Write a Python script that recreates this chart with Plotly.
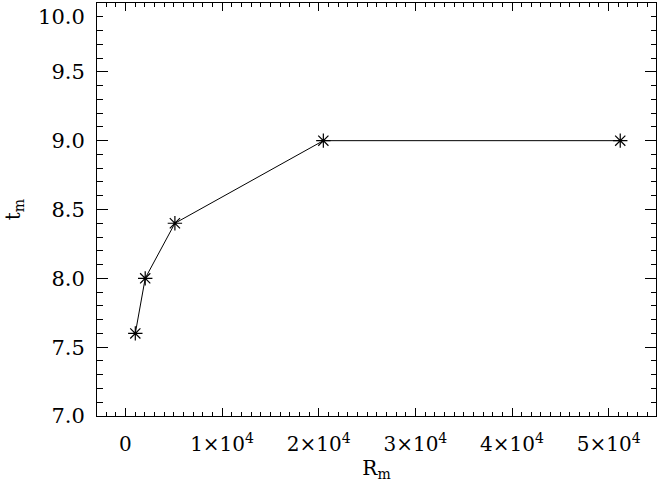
import plotly.graph_objects as go

R_m = [1024, 2048, 5120, 20480, 51200]
t_m = [7.6, 8.0, 8.4, 9.0, 9.0]

x_tickvals = [0, 10000, 20000, 30000, 40000, 50000]
x_ticktext = ["0", "1×10<sup>4</sup>", "2×10<sup>4</sup>", "3×10<sup>4</sup>",
              "4×10<sup>4</sup>", "5×10<sup>4</sup>"]
y_tickvals = [7.0, 7.5, 8.0, 8.5, 9.0, 9.5, 10.0]
y_ticktext = ["7.0", "7.5", "8.0", "8.5", "9.0", "9.5", "<br>10.0"]

FONT = "DejaVu Serif"

fig = go.Figure()
fig.add_trace(go.Scatter(
    x=R_m, y=t_m, mode="lines+markers",
    line=dict(color="black", width=1),
    marker=dict(symbol="asterisk", size=12, color="black",
                line=dict(color="black", width=1.2)),
    showlegend=False,
))

fig.update_layout(
    width=658, height=485,
    margin=dict(l=97, r=2, t=3, b=69),
    paper_bgcolor="white", plot_bgcolor="white",
    font=dict(family=FONT, size=20, color="black"),
    xaxis=dict(
        range=[-2940, 54900],
        tickvals=x_tickvals, ticktext=x_ticktext,
        ticks="inside", ticklen=8, tickwidth=1, tickcolor="black",
        showline=True, linecolor="black", linewidth=1, mirror="allticks",
        showgrid=False, zeroline=False, automargin=False,
        minor=dict(ticks="inside", ticklen=4, dtick=1000, tick0=0,
                   tickcolor="black", showgrid=False),
        ticklabelstandoff=10,
        title=dict(text="R<sub>m</sub>", font=dict(size=20), standoff=4),
    ),
    yaxis=dict(
        range=[7, 10],
        tickvals=y_tickvals, ticktext=y_ticktext,
        tickfont=dict(size=21),
        ticks="inside", ticklen=11, tickwidth=1, tickcolor="black",
        showline=True, linecolor="black", linewidth=1, mirror="allticks",
        showgrid=False, zeroline=False, automargin=False,
        minor=dict(ticks="inside", ticklen=5.5, dtick=0.1, tick0=7,
                   tickcolor="black", showgrid=False),
        ticklabelstandoff=7,
        title=dict(text="t<sub>m</sub>", font=dict(size=20), standoff=12),
    ),
)

fig.write_html(
    "out.html",
    config={"responsive": False, "displayModeBar": False},
    post_script="document.body.style.margin='0';document.body.style.overflow='hidden';",
)
